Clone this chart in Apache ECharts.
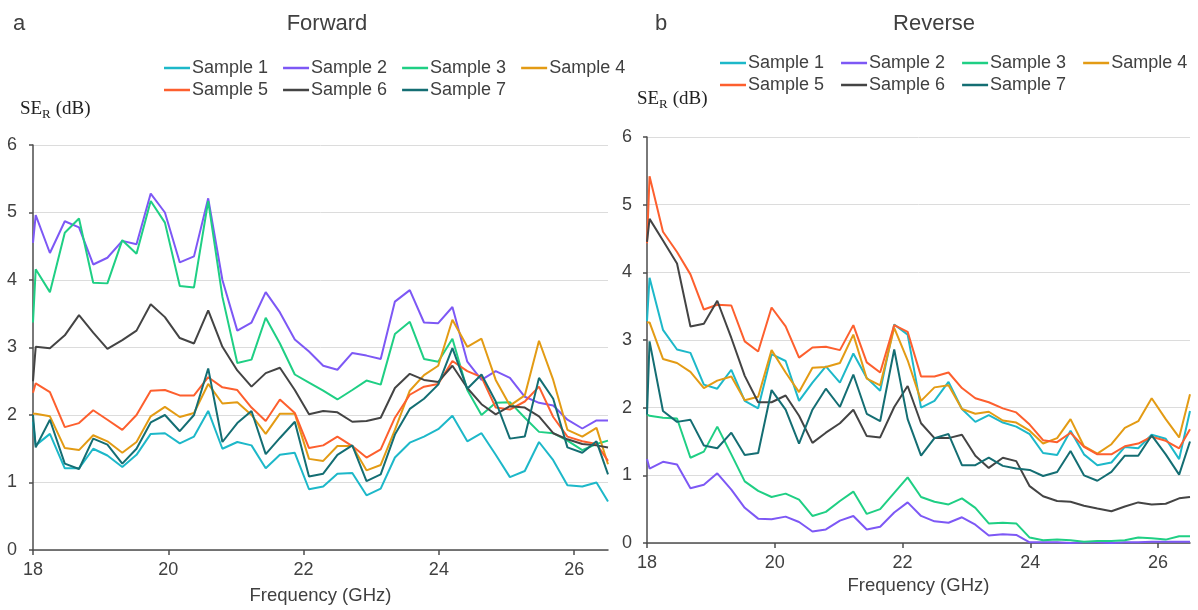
<!DOCTYPE html>
<html>
<head>
<meta charset="utf-8">
<script src="https://cdn.jsdelivr.net/npm/echarts@6/dist/echarts.min.js"></script>
<style>
  html, body { margin: 0; padding: 0; background: #ffffff; }
  #chart { width: 1198px; height: 610px; }
</style>
</head>
<body>
<div id="chart"></div>
<script>
// Frequency sweep points (GHz), shared by both panels
const freq = [18.0, 18.04, 18.25, 18.47, 18.68, 18.89, 19.10, 19.32, 19.53, 19.74,
  19.95, 20.17, 20.38, 20.59, 20.80, 21.02, 21.23, 21.44, 21.65, 21.87,
  22.08, 22.29, 22.50, 22.72, 22.93, 23.14, 23.35, 23.57, 23.78, 23.99,
  24.20, 24.42, 24.63, 24.84, 25.05, 25.27, 25.48, 25.69, 25.90, 26.12,
  26.33, 26.5];

const sampleNames = ['Sample 1', 'Sample 2', 'Sample 3', 'Sample 4', 'Sample 5', 'Sample 6', 'Sample 7'];
const sampleColors = ['#1db8c9', '#7d58f5', '#1fcf84', '#e39b14', '#fd5f2e', '#444444', '#146e73'];

const xTicks = [18, 20, 22, 24, 26];
const yTicks = [0, 1, 2, 3, 4, 5, 6];

// Forward SE_R (dB)
const fwd1 = [1.90, 1.55, 1.72, 1.21, 1.21, 1.50, 1.40, 1.23, 1.41, 1.72, 1.73, 1.58, 1.68, 2.06, 1.50, 1.60, 1.55, 1.21, 1.41, 1.44, 0.90, 0.94, 1.13, 1.14, 0.81, 0.91, 1.37, 1.59, 1.68, 1.79, 1.99, 1.61, 1.73, 1.41, 1.08, 1.17, 1.60, 1.33, 0.96, 0.94, 1.00, 0.72];
const fwd2 = [4.55, 4.96, 4.40, 4.87, 4.78, 4.23, 4.33, 4.58, 4.53, 5.28, 5.00, 4.26, 4.35, 5.21, 4.00, 3.25, 3.37, 3.82, 3.52, 3.12, 2.94, 2.73, 2.67, 2.92, 2.88, 2.83, 3.68, 3.85, 3.37, 3.36, 3.60, 2.79, 2.52, 2.65, 2.55, 2.27, 2.18, 2.14, 1.93, 1.80, 1.92, 1.92];
const fwd3 = [3.37, 4.16, 3.82, 4.70, 4.91, 3.96, 3.95, 4.59, 4.39, 5.17, 4.85, 3.91, 3.89, 5.17, 3.75, 2.77, 2.82, 3.44, 3.06, 2.60, 2.48, 2.36, 2.23, 2.37, 2.51, 2.45, 3.20, 3.38, 2.83, 2.79, 3.13, 2.37, 2.00, 2.18, 2.19, 1.96, 1.75, 1.73, 1.62, 1.48, 1.57, 1.62];
const fwd4 = [2.02, 2.02, 1.98, 1.51, 1.48, 1.70, 1.61, 1.44, 1.60, 1.98, 2.12, 1.97, 2.03, 2.46, 2.17, 2.19, 2.00, 1.72, 2.02, 2.02, 1.35, 1.32, 1.54, 1.54, 1.18, 1.26, 1.78, 2.36, 2.59, 2.73, 3.41, 3.01, 3.13, 2.52, 2.14, 2.29, 3.10, 2.52, 1.78, 1.68, 1.81, 1.27];
const fwd5 = [2.33, 2.47, 2.34, 1.82, 1.88, 2.07, 1.93, 1.78, 2.00, 2.36, 2.37, 2.29, 2.29, 2.56, 2.41, 2.37, 2.11, 1.91, 2.23, 2.03, 1.51, 1.55, 1.68, 1.54, 1.37, 1.49, 1.96, 2.30, 2.42, 2.46, 2.80, 2.65, 2.56, 2.11, 2.08, 2.20, 2.42, 1.97, 1.68, 1.61, 1.57, 1.32];
const fwd6 = [2.50, 3.01, 2.99, 3.18, 3.48, 3.22, 2.98, 3.11, 3.25, 3.64, 3.45, 3.14, 3.06, 3.55, 3.01, 2.66, 2.42, 2.62, 2.70, 2.37, 2.01, 2.06, 2.04, 1.90, 1.91, 1.96, 2.40, 2.61, 2.52, 2.49, 2.73, 2.40, 2.16, 2.01, 2.13, 2.11, 1.98, 1.73, 1.64, 1.57, 1.55, 1.52];
const fwd7 = [2.00, 1.52, 1.93, 1.28, 1.20, 1.65, 1.56, 1.28, 1.50, 1.89, 2.00, 1.76, 2.00, 2.69, 1.60, 1.88, 2.06, 1.42, 1.66, 1.90, 1.09, 1.13, 1.41, 1.55, 1.02, 1.12, 1.71, 2.09, 2.24, 2.45, 2.99, 2.39, 2.60, 2.20, 1.65, 1.68, 2.55, 2.24, 1.52, 1.44, 1.61, 1.12];

// Reverse SE_R (dB)
const rev1 = [3.28, 3.92, 3.15, 2.86, 2.81, 2.34, 2.28, 2.56, 2.10, 1.99, 2.79, 2.69, 2.10, 2.37, 2.61, 2.37, 2.80, 2.44, 2.25, 3.23, 3.08, 2.00, 2.10, 2.38, 1.98, 1.79, 1.89, 1.78, 1.72, 1.61, 1.33, 1.30, 1.66, 1.31, 1.15, 1.19, 1.42, 1.40, 1.60, 1.54, 1.24, 1.95];
const rev2 = [1.24, 1.10, 1.20, 1.16, 0.81, 0.86, 1.03, 0.79, 0.52, 0.36, 0.35, 0.39, 0.31, 0.17, 0.20, 0.33, 0.40, 0.20, 0.24, 0.45, 0.60, 0.40, 0.32, 0.30, 0.38, 0.27, 0.11, 0.13, 0.12, 0.01, 0.01, 0.01, 0.00, 0.01, 0.01, 0.00, 0.01, 0.01, 0.02, 0.02, 0.02, 0.02];
const rev3 = [1.90, 1.88, 1.85, 1.84, 1.26, 1.35, 1.72, 1.31, 0.91, 0.77, 0.68, 0.73, 0.64, 0.40, 0.46, 0.62, 0.76, 0.43, 0.50, 0.74, 0.97, 0.68, 0.61, 0.57, 0.66, 0.52, 0.29, 0.30, 0.29, 0.08, 0.04, 0.05, 0.04, 0.02, 0.03, 0.03, 0.04, 0.08, 0.07, 0.05, 0.10, 0.10];
const rev4 = [3.26, 3.26, 2.72, 2.66, 2.53, 2.29, 2.40, 2.46, 2.11, 2.16, 2.85, 2.52, 2.23, 2.59, 2.60, 2.66, 3.08, 2.43, 2.33, 3.18, 2.70, 2.10, 2.30, 2.33, 1.98, 1.91, 1.94, 1.81, 1.78, 1.66, 1.47, 1.55, 1.83, 1.43, 1.32, 1.46, 1.70, 1.80, 2.14, 1.83, 1.56, 2.20];
const rev5 = [4.43, 5.42, 4.60, 4.30, 3.97, 3.45, 3.52, 3.51, 2.98, 2.83, 3.48, 3.20, 2.74, 2.89, 2.90, 2.85, 3.22, 2.67, 2.52, 3.22, 3.12, 2.46, 2.46, 2.52, 2.29, 2.14, 2.08, 1.99, 1.93, 1.75, 1.52, 1.49, 1.63, 1.42, 1.31, 1.31, 1.43, 1.47, 1.57, 1.51, 1.40, 1.68];
const rev6 = [4.45, 4.79, 4.47, 4.13, 3.20, 3.24, 3.58, 3.03, 2.47, 2.08, 2.08, 2.18, 1.88, 1.48, 1.63, 1.77, 1.97, 1.58, 1.56, 2.01, 2.32, 1.77, 1.55, 1.55, 1.60, 1.29, 1.11, 1.26, 1.21, 0.84, 0.69, 0.62, 0.61, 0.55, 0.51, 0.47, 0.54, 0.60, 0.57, 0.58, 0.66, 0.68];
const rev7 = [1.90, 2.98, 1.95, 1.79, 1.82, 1.44, 1.40, 1.63, 1.30, 1.33, 2.26, 1.97, 1.47, 1.97, 2.28, 2.01, 2.49, 1.91, 1.80, 2.86, 1.83, 1.29, 1.55, 1.61, 1.15, 1.15, 1.26, 1.14, 1.10, 1.08, 0.99, 1.05, 1.36, 1.00, 0.92, 1.05, 1.29, 1.29, 1.59, 1.31, 1.01, 1.50];

const forwardSets = [fwd1, fwd2, fwd3, fwd4, fwd5, fwd6, fwd7];
const reverseSets = [rev1, rev2, rev3, rev4, rev5, rev6, rev7];

const textColor = '#404040';
const sansFont = '"Liberation Sans", Arial, sans-serif';
const serifFont = '"Liberation Serif", "Times New Roman", serif';

function pairs(values) {
  return freq.map((f, i) => [f, values[i]]);
}

function buildSeries(sets, gridIndex) {
  return sets.map((vals, i) => ({
    name: sampleNames[i],
    type: 'line',
    xAxisIndex: gridIndex,
    yAxisIndex: gridIndex,
    data: pairs(vals),
    showSymbol: false,
    symbol: 'none',
    lineStyle: { width: 2, color: sampleColors[i] },
    itemStyle: { color: sampleColors[i] },
    z: 2 + i
  }));
}

function xAxisFor(gridIndex, nameGap) {
  return {
    type: 'value', gridIndex: gridIndex,
    min: xTicks[0], max: 26.5, interval: 2,
    name: 'Frequency (GHz)', nameLocation: 'middle', nameGap: nameGap,
    nameTextStyle: { color: textColor, fontSize: 18.5, fontFamily: sansFont },
    axisLine: { show: true, lineStyle: { color: '#4d4d4d', width: 1.5 } },
    axisTick: { show: true, inside: false, length: 5, lineStyle: { color: '#4d4d4d', width: 1.5 } },
    axisLabel: { color: textColor, fontSize: 18, fontFamily: sansFont, margin: 11,
      showMaxLabel: false,
      formatter: v => (xTicks.indexOf(v) >= 0 ? String(v) : '') },
    splitLine: { show: false }
  };
}

function yAxisFor(gridIndex, margin) {
  return {
    type: 'value', gridIndex: gridIndex,
    min: yTicks[0], max: yTicks[yTicks.length - 1], interval: 1,
    axisLine: { show: true, lineStyle: { color: '#4d4d4d', width: 1.5 } },
    axisTick: { show: true, inside: false, length: 4, lineStyle: { color: '#4d4d4d', width: 1.5 } },
    axisLabel: { color: textColor, fontSize: 18, fontFamily: sansFont, margin: margin },
    splitLine: { show: true, lineStyle: { color: '#dcdcdc', width: 1 } }
  };
}

function legendRow(names, left, top, gap) {
  return {
    data: names, left: left, top: top, orient: 'horizontal',
    icon: 'rect', itemWidth: 26, itemHeight: 2.5, itemGap: gap,
    textStyle: { color: textColor, fontSize: 18, fontFamily: sansFont, padding: [0, 0, 0, -3] },
    selectedMode: false
  };
}

// "SE_R (dB)" axis caption with a subscript R
function seCaption(x, y) {
  return {
    type: 'group', left: x, top: y,
    children: [
      { type: 'text', x: 0, y: 0, style: { text: 'SE', font: '19px ' + serifFont, fill: '#222222' } },
      { type: 'text', x: 22, y: 8, style: { text: 'R', font: '13px ' + serifFont, fill: '#222222' } },
      { type: 'text', x: 31, y: 0, style: { text: ' (dB)', font: '19px ' + serifFont, fill: '#222222' } }
    ]
  };
}

const chart = echarts.init(document.getElementById('chart'), null, { renderer: 'canvas' });

chart.setOption({
  animation: false,
  backgroundColor: '#ffffff',
  title: [
    { text: 'Forward', left: 322, top: 8, textAlign: 'center',
      textStyle: { color: textColor, fontSize: 22, fontWeight: 'normal', fontFamily: sansFont } },
    { text: 'Reverse', left: 929, top: 8, textAlign: 'center',
      textStyle: { color: textColor, fontSize: 22, fontWeight: 'normal', fontFamily: sansFont } },
    { text: 'a', left: 8, top: 8,
      textStyle: { color: textColor, fontSize: 22, fontWeight: 'normal', fontFamily: sansFont } },
    { text: 'b', left: 650, top: 8,
      textStyle: { color: textColor, fontSize: 22, fontWeight: 'normal', fontFamily: sansFont } }
  ],
  legend: [
    legendRow(sampleNames.slice(0, 4), 159, 54, 15),
    legendRow(sampleNames.slice(4), 159, 76, 15),
    legendRow(sampleNames.slice(0, 4), 715, 49, 17),
    legendRow(sampleNames.slice(4), 715, 71, 17)
  ],
  graphic: [seCaption(20, 100), seCaption(637, 90)],
  grid: [
    { left: 33, right: 590, top: 145, bottom: 58 },
    { left: 647, right: 8, top: 137, bottom: 67 }
  ],
  xAxis: [xAxisFor(0, 36), xAxisFor(1, 32)],
  yAxis: [yAxisFor(0, 16), yAxisFor(1, 15)],
  series: buildSeries(forwardSets, 0).concat(buildSeries(reverseSets, 1))
});
</script>
</body>
</html>
